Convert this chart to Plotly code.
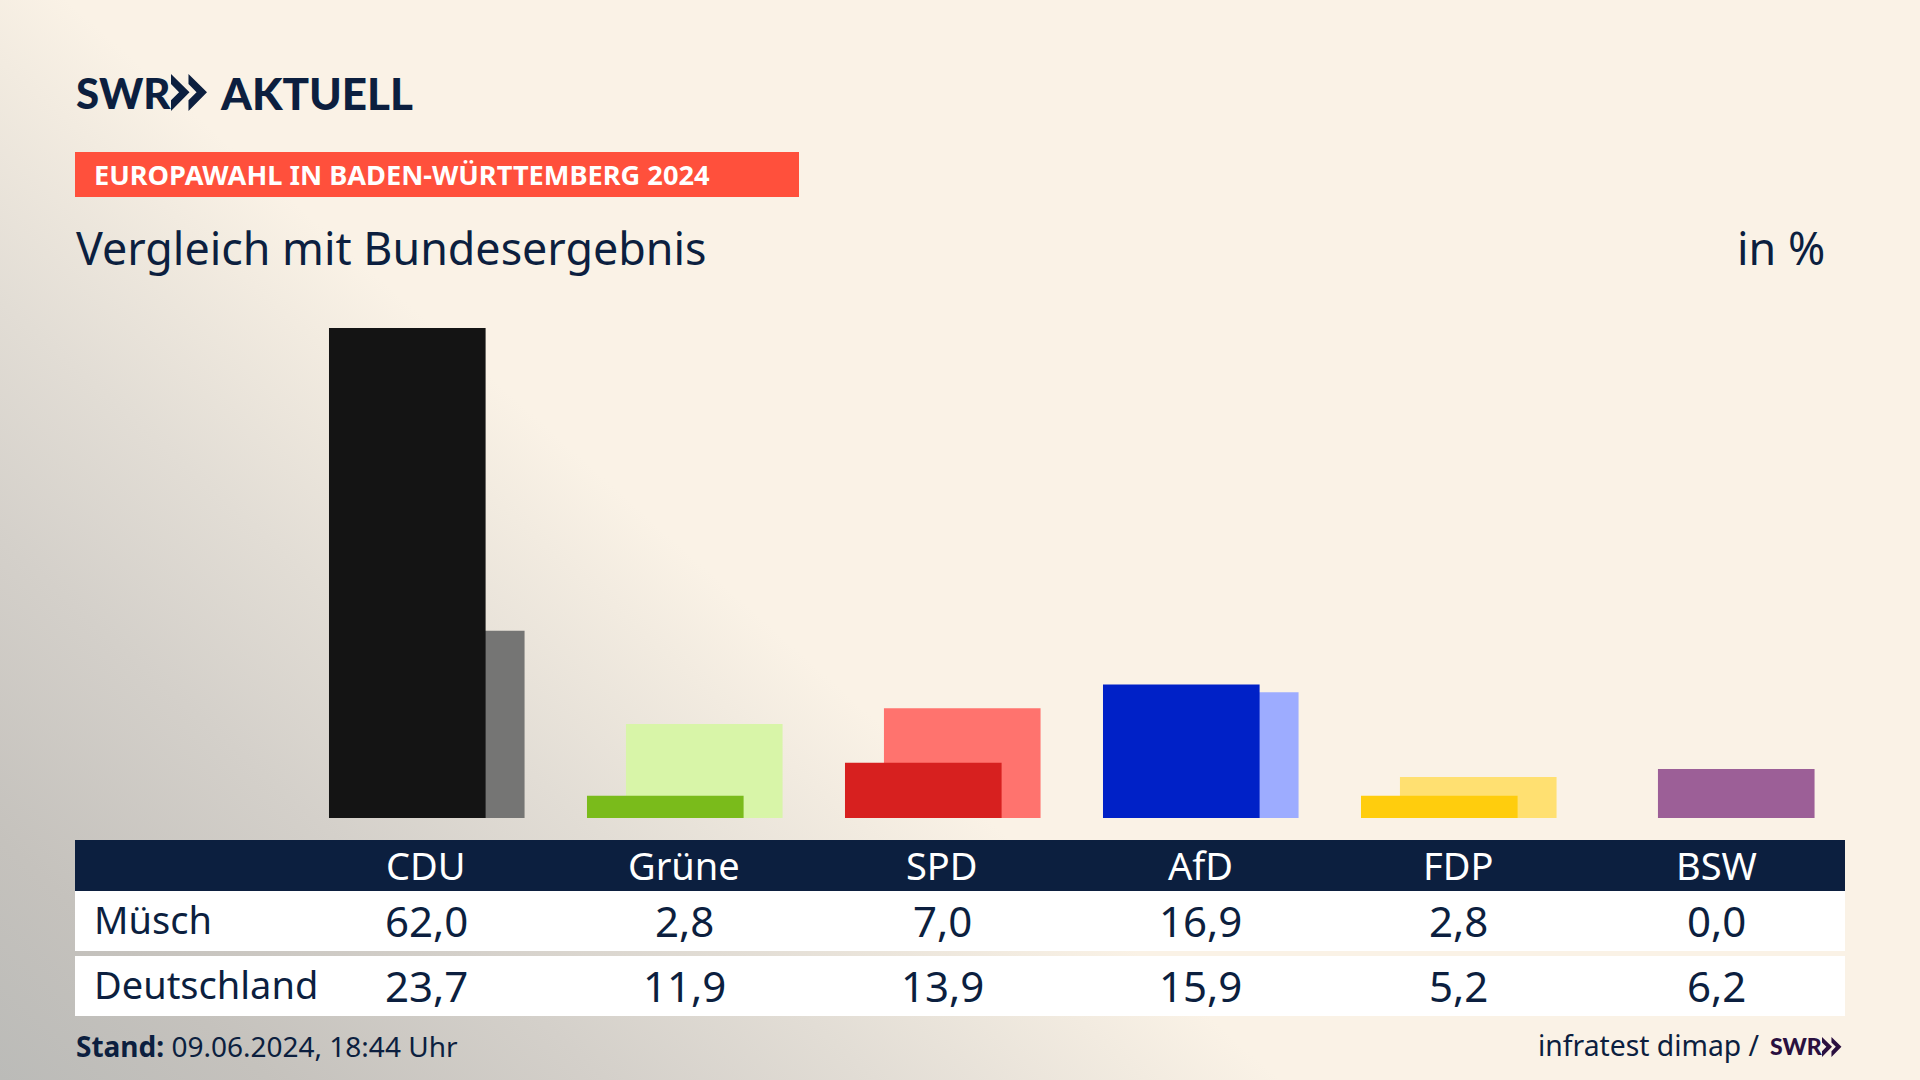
import base64
import plotly.graph_objects as go

parties = ["CDU", "Grüne", "SPD", "AfD", "FDP", "BSW"]
muesch = [62.0, 2.8, 7.0, 16.9, 2.8, 0.0]
deutschland = [23.7, 11.9, 13.9, 15.9, 5.2, 6.2]
row_names = ["Müsch", "Deutschland"]
front_colors = ["#141414", "#7abb1b", "#d7201f", "#0021c7", "#ffcd0d", "#9c5f97"]
back_colors = ["#757574", "#d8f5a8", "#ff736e", "#9dacff", "#ffe071", "#9c5f97"]

W, H = 1920, 1080
NAVY = "#0c1f3f"
FONT = "Noto Sans"
px = lambda x: x / W
py = lambda y: 1 - y / H

svg = f'''<svg xmlns="http://www.w3.org/2000/svg" width="{W}" height="{H}" viewBox="0 0 {W} {H}">
<defs><linearGradient id="g" gradientUnits="userSpaceOnUse" x1="566" y1="444" x2="0" y2="1080">
<stop offset="0" stop-color="#faf2e6"/><stop offset="0.105" stop-color="#f2ebe0"/>
<stop offset="0.316" stop-color="#e2ddd5"/><stop offset="0.526" stop-color="#d4d0ca"/>
<stop offset="0.789" stop-color="#c5c2bd"/><stop offset="1" stop-color="#bbbbb8"/>
</linearGradient></defs><rect width="{W}" height="{H}" fill="url(#g)"/></svg>'''
bg_uri = "data:image/svg+xml;base64," + base64.b64encode(svg.encode()).decode()

fig = go.Figure()
fig.add_bar(x=parties, y=deutschland, width=0.607, offset=-0.225,
            marker=dict(color=back_colors, line_width=0), name="Deutschland")
fig.add_bar(x=parties, y=muesch, width=0.607, offset=-0.376,
            marker=dict(color=front_colors, line_width=0), name="Müsch")


def rect(x0, y0, x1, y1, color):
    return dict(type="rect", xref="paper", yref="paper", x0=px(x0), x1=px(x1),
                y0=py(y1), y1=py(y0), fillcolor=color, line_width=0, layer="below")


def chevrons(x, y, h, color):
    s = h / 110
    out = []
    for dx in (0, 52):
        pts = [(0, 0), (55, 54), (0, 110), (0, 78), (24, 54), (0, 30)]
        d = "M" + " L".join(f"{px(x + (p[0] + dx) * s):.5f},{py(y + p[1] * s):.5f}" for p in pts) + " Z"
        out.append(dict(type="path", xref="paper", yref="paper", path=d, fillcolor=color, line_width=0, layer="above"))
    return out


shapes = [
    rect(75, 152, 799, 197, "#ff503c"),
    rect(75, 840, 1845, 891, NAVY),
    rect(75, 891, 1845, 951, "#ffffff"),
    rect(75, 956, 1845, 1016, "#ffffff"),
]
shapes += chevrons(171, 74, 37, NAVY)
shapes += chevrons(1822, 1037, 20, "#2a1040")

ann = []


def text(x, y, s, size, color=NAVY, anchor="left", weight=400, family=FONT):
    ann.append(dict(xref="paper", yref="paper", x=px(x), y=py(y), text=s, showarrow=False,
                    xanchor=anchor, yanchor="middle", borderpad=0,
                    font=dict(family=family, size=size, color=color, weight=weight)))


def fmt(v):
    return f"{v:.1f}".replace(".", ",")


text(75, 93, "SWR", 42, weight=900, family="Lato")
text(219, 93, "AKTUELL", 44, weight=900, family="Lato")
text(93, 175, "EUROPAWAHL IN BADEN-WÜRTTEMBERG 2024", 27.2, "#ffffff", weight=700)
text(75, 247, "Vergleich mit Bundesergebnis", 44.8)
text(1826, 247, "in %", 44.8, anchor="right")
text(93, 919, row_names[0], 38)
text(93, 984, row_names[1], 38)
for party, a, b in zip(parties, muesch, deutschland):
    ann.append(dict(xref="x", yref="paper", x=party, y=py(865), text=party, showarrow=False, yanchor="middle",
                    font=dict(family=FONT, size=38, color="#ffffff")))
    ann.append(dict(xref="x", yref="paper", x=party, y=py(920), text=fmt(a), showarrow=False, yanchor="middle",
                    font=dict(family=FONT, size=42, color=NAVY)))
    ann.append(dict(xref="x", yref="paper", x=party, y=py(985), text=fmt(b), showarrow=False, yanchor="middle",
                    font=dict(family=FONT, size=42, color=NAVY)))
text(75, 1046, "<b>Stand:</b> 09.06.2024, 18:44 Uhr", 28)
text(1761, 1045, "infratest dimap /", 28.3, anchor="right")
text(1769, 1046, "SWR", 23, "#2a1040", weight=900, family="Lato")

fig.update_layout(
    width=W, height=H, margin=dict(l=0, r=0, t=0, b=0),
    barmode="overlay", showlegend=False,
    paper_bgcolor="#faf2e6", plot_bgcolor="rgba(0,0,0,0)",
    xaxis=dict(type="category", categoryorder="array", categoryarray=parties,
               range=[-426 / 258, (W - 426) / 258], visible=False, fixedrange=True),
    yaxis=dict(range=[-(H - 818) / 7.903, 818 / 7.903], visible=False, fixedrange=True),
    shapes=shapes, annotations=ann,
    images=[dict(source=bg_uri, xref="paper", yref="paper", x=0, y=1, sizex=1, sizey=1,
                 xanchor="left", yanchor="top", sizing="stretch", layer="below")],
)
fig.write_html("out.html", config={"displayModeBar": False},
               post_script="document.body.style.margin='0';document.documentElement.style.overflow='hidden';")
